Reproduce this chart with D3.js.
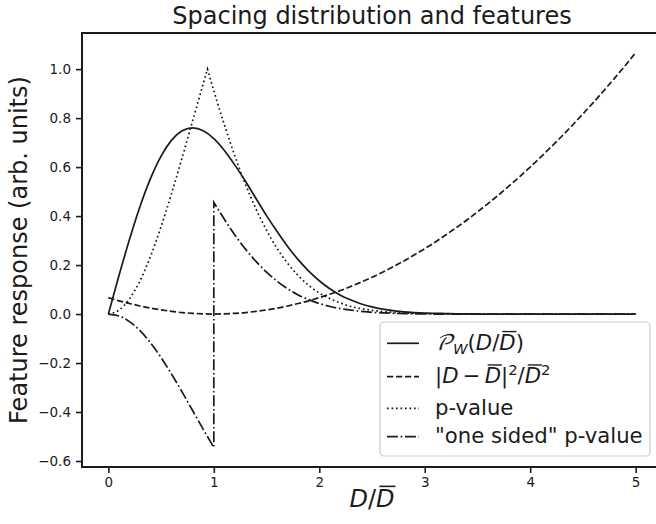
<!DOCTYPE html>
<html>
<head>
<meta charset="utf-8">
<script src="https://cdn.jsdelivr.net/npm/d3@7"></script>
<style>
body { margin: 0; background: #fff; }
text { font-family: "DejaVu Sans", sans-serif; }
</style>
</head>
<body>
<div id="chart-area"></div>
<script>
// spacing D/Dbar sampled every 0.1
var spacing = [0.0, 0.1, 0.2, 0.3, 0.4, 0.5, 0.6, 0.7, 0.8, 0.9,
	1.0, 1.1, 1.2, 1.3, 1.4, 1.5, 1.6, 1.7, 1.8, 1.9,
	2.0, 2.1, 2.2, 2.3, 2.4, 2.5, 2.6, 2.7, 2.8, 2.9,
	3.0, 3.1, 3.2, 3.3, 3.4, 3.5, 3.6, 3.7, 3.8, 3.9,
	4.0, 4.1, 4.2, 4.3, 4.4, 4.5, 4.6, 4.7, 4.8, 4.9, 5.0];

// Wigner surmise
var wigner = [0, 0.156, 0.304, 0.439, 0.554, 0.645, 0.710, 0.748, 0.760, 0.748,
	0.716, 0.668, 0.608, 0.542, 0.472, 0.402, 0.337, 0.276, 0.222, 0.175,
	0.136, 0.103, 0.077, 0.057, 0.041, 0.029, 0.020, 0.014, 0.009, 0.006,
	0.004, 0.003, 0.002, 0.001, 0.001, 0, 0, 0, 0, 0,
	0, 0, 0, 0, 0, 0, 0, 0, 0, 0, 0];

// squared deviation from the mean spacing (scaled)
var sqDev = [0.067, 0.054, 0.043, 0.033, 0.024, 0.017, 0.011, 0.006, 0.003, 0.001,
	0, 0.001, 0.003, 0.006, 0.011, 0.017, 0.024, 0.033, 0.043, 0.054,
	0.067, 0.081, 0.096, 0.113, 0.131, 0.150, 0.171, 0.193, 0.216, 0.241,
	0.267, 0.294, 0.323, 0.353, 0.384, 0.417, 0.451, 0.486, 0.523, 0.561,
	0.600, 0.641, 0.683, 0.726, 0.771, 0.817, 0.864, 0.913, 0.963, 1.014, 1.067];

// two sided p-value, with its peak at the median spacing
var pValue = [0, 0.016, 0.062, 0.136, 0.236, 0.357, 0.493, 0.639, 0.790, 0.941,
	0.912, 0.773, 0.645, 0.530, 0.429, 0.342, 0.268, 0.207, 0.157, 0.117,
	0.086, 0.063, 0.045, 0.031, 0.022, 0.015, 0.010, 0.007, 0.004, 0.003,
	0.002, 0.001, 0.001, 0, 0, 0, 0, 0, 0, 0,
	0, 0, 0, 0, 0, 0, 0, 0, 0, 0, 0];
var pValuePeak = [0.94, 1.0];

// "one sided" p-value: negative branch for D < Dbar, positive above
var oneSidedBelow = [0, -0.008, -0.031, -0.068, -0.118, -0.178, -0.246, -0.319, -0.395, -0.471, -0.544];
var oneSidedAbove = [0.456, 0.387, 0.323, 0.265, 0.215, 0.171, 0.134, 0.103, 0.078, 0.059,
	0.043, 0.031, 0.022, 0.016, 0.011, 0.007, 0.005, 0.003, 0.002, 0.001,
	0.001, 0, 0, 0, 0, 0, 0, 0, 0, 0,
	0, 0, 0, 0, 0, 0, 0, 0, 0, 0, 0];

var xTicks = [0, 1, 2, 3, 4, 5];
var yTicks = [-0.6, -0.4, -0.2, 0.0, 0.2, 0.4, 0.6, 0.8, 1.0];

// legend labels as (text, style) runs
var legendLabels = [
	[["\uD835\uDCAB", "cal"], ["W", "i sub"], ["(", ""], ["D", "i"], ["/", ""], ["D", "i bar"], [")", ""]],
	[["|", ""], ["D", "i"], ["\u2009\u2212\u2009", ""], ["D", "i bar"], ["|", ""], ["2", "sup"], ["/", ""], ["D", "i bar"], ["2", "sup"]],
	[["p-value", ""]],
	[["\"one sided\" p-value", ""]]
];
var xLabel = [["D", "i"], ["/", ""], ["D", "i bar"]];

var mwidth = 656, mheight = 524;
var margin = {top: 33, right: -6, bottom: 57, left: 82};
var w = mwidth - margin.left - margin.right;
var h = mheight - margin.top - margin.bottom;
var lw = 1.7;
var ink = "#1b1b1b";

var svg = d3.select("#chart-area").append("svg")
	.attr("width", mwidth)
	.attr("height", mheight);

var g = svg.append("g")
	.attr("transform", "translate(" + margin.left + ", " + margin.top + ")");

// 5% padding around the data, like the usual autoscale
var yMin = d3.min([d3.min(wigner), d3.min(sqDev), d3.min(pValue), d3.min(oneSidedBelow)]);
var yMax = d3.max([d3.max(wigner), d3.max(sqDev), pValuePeak[1], d3.max(oneSidedAbove)]);
var xPad = 0.05 * (d3.max(spacing) - d3.min(spacing));
var yPad = 0.05 * (yMax - yMin);

var x = d3.scaleLinear()
	.domain([d3.min(spacing) - xPad, d3.max(spacing) + xPad])
	.range([0, w]);

var y = d3.scaleLinear()
	.domain([yMin - yPad, yMax + yPad])
	.range([h, 0]);

var line = d3.line()
	.x(function(d) { return x(d[0]); })
	.y(function(d) { return y(d[1]); })
	.curve(d3.curveMonotoneX);

function pairs(xs, ys) { return ys.map(function(v, i) { return [xs[i], v]; }); }
// join two pieces into one path so the dash pattern runs on
function joined(a, b) { return line(a) + line(b).replace(/^M/, "L"); }

var pRise = pairs(spacing.slice(0, 10), pValue.slice(0, 10)).concat([pValuePeak]);
var pFall = [pValuePeak].concat(pairs(spacing.slice(10), pValue.slice(10)));

var curves = [
	{d: line(pairs(spacing, wigner)), dash: null},
	{d: line(pairs(spacing, sqDev)), dash: "6.3,2.7"},
	{d: joined(pRise, pFall), dash: "1.7,2.8"},
	{d: joined(pairs(spacing.slice(0, 11), oneSidedBelow), pairs(spacing.slice(10), oneSidedAbove)), dash: "10.9,2.7,1.7,2.7"}
];

g.selectAll("path.curve")
	.data(curves)
	.enter().append("path")
		.attr("class", "curve")
		.attr("d", function(d) { return d.d; })
		.attr("fill", "none")
		.attr("stroke", ink)
		.attr("stroke-width", lw)
		.attr("stroke-dasharray", function(d) { return d.dash; });

// axes
var xAxisCall = d3.axisBottom(x).tickValues(xTicks).tickSize(6).tickPadding(4).tickFormat(d3.format("d"));
var yAxisCall = d3.axisLeft(y).tickValues(yTicks).tickSize(6).tickPadding(5).tickFormat(d3.format(".1f"));

var xg = g.append("g")
	.attr("transform", "translate(0, " + h + ")")
	.call(xAxisCall);
var yg = g.append("g").call(yAxisCall);

[xg, yg].forEach(function(a) {
	a.select(".domain").remove();
	a.attr("font-family", "DejaVu Sans").attr("font-size", 13.5);
	a.selectAll("line").attr("stroke", ink).attr("stroke-width", 1.6);
	a.selectAll("text").attr("fill", ink);
});

g.append("rect")
	.attr("width", w)
	.attr("height", h)
	.attr("fill", "none")
	.attr("stroke", ink)
	.attr("stroke-width", 2);

// math-ish labels: italic letters, sub/superscripts and overbars
function mathText(sel, parts, size, baseline) {
	var shift = 0;
	var bars = [];
	parts.forEach(function(p) {
		var kind = p[1].split(" ");
		var t = sel.append("tspan").text(p[0]);
		var target = 0;
		if (kind.indexOf("sub") >= 0) { target = 0.2 * size; t.attr("font-size", 0.7 * size); }
		if (kind.indexOf("sup") >= 0) { target = -0.38 * size; t.attr("font-size", 0.7 * size); }
		if (kind.indexOf("i") >= 0) t.attr("font-style", "italic");
		if (kind.indexOf("cal") >= 0) t.attr("font-family", "'DejaVu Math TeX Gyre', 'DejaVu Serif', serif").attr("font-style", "italic");
		t.attr("dy", target - shift);
		shift = target;
		if (kind.indexOf("bar") >= 0) bars.push(t);
	});
	var parent = d3.select(sel.node().parentNode);
	bars.forEach(function(t) {
		var bb = t.node().getBBox();
		parent.append("line")
			.attr("x1", bb.x + 0.14 * size)
			.attr("x2", bb.x + bb.width + 0.04 * size)
			.attr("y1", baseline - 0.86 * size)
			.attr("y2", baseline - 0.86 * size)
			.attr("stroke", ink)
			.attr("stroke-width", 0.065 * size);
	});
}

// legend
var legend = svg.append("g").attr("transform", "translate(380, 322)");
legend.append("rect")
	.attr("width", 270)
	.attr("height", 134)
	.attr("rx", 4)
	.attr("fill", "white")
	.attr("fill-opacity", 0.8)
	.attr("stroke", "#cccccc")
	.attr("stroke-width", 1.2);

var rowY = [21.3, 54.7, 86.3, 114.7];
legendLabels.forEach(function(lab, i) {
	legend.append("line")
		.attr("x1", 7).attr("x2", 39)
		.attr("y1", rowY[i]).attr("y2", rowY[i])
		.attr("stroke", ink)
		.attr("stroke-width", lw)
		.attr("stroke-dasharray", curves[i].dash);
	var t = legend.append("text")
		.attr("x", 55)
		.attr("y", rowY[i] + 6.5)
		.attr("font-size", 21.2)
		.attr("fill", ink);
	mathText(t, lab, 21.2, rowY[i] + 6.5);
});

// titles and axis labels
svg.append("text")
	.attr("x", margin.left + w / 2)
	.attr("y", 24)
	.attr("font-size", "24px")
	.attr("text-anchor", "middle")
	.attr("fill", ink)
	.text("Spacing distribution and features");

svg.append("text")
	.attr("x", -(margin.top + h / 2))
	.attr("y", 27)
	.attr("font-size", "24px")
	.attr("text-anchor", "middle")
	.attr("transform", "rotate(-90)")
	.attr("fill", ink)
	.text("Feature response (arb. units)");

var xl = svg.append("text")
	.attr("x", margin.left + w / 2)
	.attr("y", 507)
	.attr("font-size", "24px")
	.attr("text-anchor", "middle")
	.attr("fill", ink);
mathText(xl, xLabel, 24, 507);
</script>
</body>
</html>
